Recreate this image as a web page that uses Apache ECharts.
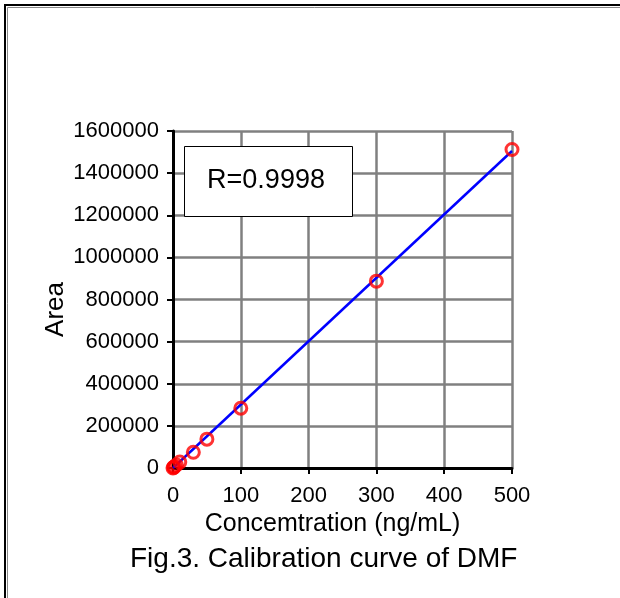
<!DOCTYPE html>
<html>
<head>
<meta charset="utf-8">
<script src="https://cdn.jsdelivr.net/npm/echarts@6/dist/echarts.min.js"></script>
<style>
  html, body { margin: 0; padding: 0; background: #fff; }
  #chart { width: 620px; height: 598px; }
</style>
</head>
<body>
<div id="chart"></div>
<script>
// calibration points
const concentration = [0, 1, 2, 5, 10, 30, 50, 100, 300, 500]
const area = [0, 3000, 6000, 14000, 28000, 75000, 137000, 284000, 887000, 1512000]
// fitted line ends
const fitX = [0, 500]
const fitY = [0, 1505000]
const xTicks = { min: 0, max: 500, step: 100 }
const yTicks = { min: 0, max: 1600000, step: 200000 }

const font = 'Liberation Sans, Arial, sans-serif'
const chart = echarts.init(document.getElementById('chart'), null, { renderer: 'canvas' })

chart.setOption({
  animation: false,
  backgroundColor: '#fff',
  grid: { left: 173, top: 131, right: 108, bottom: 130 },
  title: {
    text: 'Fig.3. Calibration curve of DMF',
    left: 125,
    top: 540,
    textStyle: { fontFamily: font, fontSize: 28, fontWeight: 'normal', color: '#000' }
  },
  xAxis: {
    type: 'value',
    min: xTicks.min,
    max: xTicks.max,
    interval: xTicks.step,
    name: 'Concemtration (ng/mL)',
    nameLocation: 'middle',
    nameGap: 40,
    nameTextStyle: { fontFamily: font, fontSize: 25, color: '#000', padding: [0, 20, 0, 0] },
    axisLine: { show: true, onZero: false, lineStyle: { color: '#000', width: 3 } },
    axisTick: { show: true, length: 6, lineStyle: { color: '#000', width: 2 } },
    axisLabel: { fontFamily: font, fontSize: 22, color: '#000', margin: 17 },
    splitLine: { show: true, lineStyle: { color: '#808080', width: 2.5 } }
  },
  yAxis: {
    type: 'value',
    min: yTicks.min,
    max: yTicks.max,
    interval: yTicks.step,
    name: 'Area',
    nameLocation: 'middle',
    nameGap: 104,
    nameMoveOverlap: false,
    nameTextStyle: { fontFamily: font, fontSize: 26, color: '#000', padding: [0, 20, 0, 0] },
    axisLine: { show: true, onZero: false, lineStyle: { color: '#000', width: 3 } },
    axisTick: { show: true, length: 6, lineStyle: { color: '#000', width: 2 } },
    axisLabel: { fontFamily: font, fontSize: 22, color: '#000', margin: 14, formatter: v => String(v) },
    splitLine: { show: true, lineStyle: { color: '#808080', width: 2.5 } }
  },
  series: [
    {
      type: 'line',
      data: fitX.map((x, i) => [x, fitY[i]]),
      symbol: 'none',
      lineStyle: { color: '#0000ff', width: 2.5 },
      z: 3
    },
    {
      type: 'scatter',
      data: concentration.map((x, i) => [x, area[i]]),
      symbol: 'circle',
      symbolSize: 12,
      itemStyle: { color: 'rgba(0,0,0,0)', borderColor: '#ff0000', borderWidth: 3 },
      z: 4
    }
  ],
  graphic: [
    {
      type: 'rect',
      shape: { x: 5, y: 5, width: 700, height: 700 },
      style: { fill: 'none', stroke: '#000', lineWidth: 2 },
      z: 10
    },
    {
      type: 'rect',
      shape: { x: 7.5, y: 7.5, width: 700, height: 700 },
      style: { fill: 'none', stroke: '#888', lineWidth: 1 },
      z: 10
    },
    {
      type: 'rect',
      shape: { x: 184.5, y: 146.5, width: 168, height: 70 },
      style: { fill: '#fff', stroke: '#000', lineWidth: 1 },
      z: 10
    },
    {
      type: 'text',
      x: 266,
      y: 181,
      style: {
        text: 'R=0.9998',
        fontFamily: font,
        fontSize: 27,
        fill: '#000',
        align: 'center',
        verticalAlign: 'middle'
      },
      z: 11
    }
  ]
})
</script>
</body>
</html>
